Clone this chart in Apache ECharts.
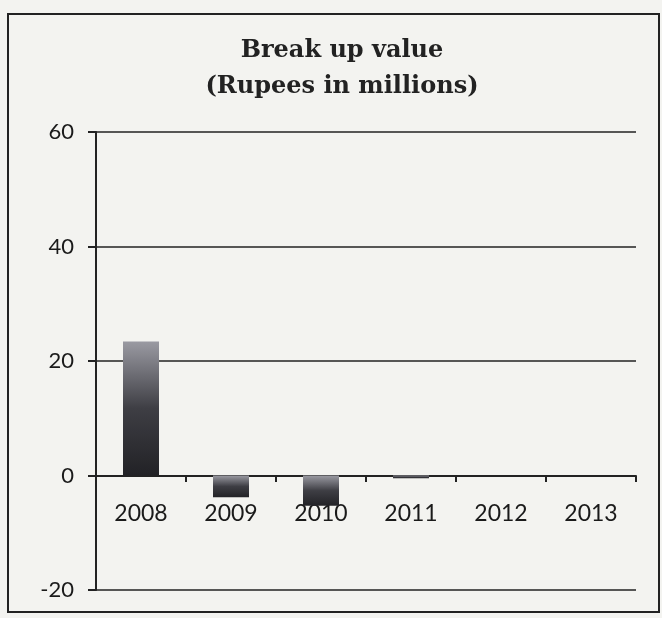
<!DOCTYPE html>
<html><head><meta charset="utf-8">
<script src="https://cdn.jsdelivr.net/npm/echarts@6/dist/echarts.min.js"></script>
<style>html,body{margin:0;padding:0;background:#f3f3f0;}#c{width:662px;height:618px;}</style>
</head><body><div id="c"></div>
<script>
var categories = ['2008','2009','2010','2011','2012','2013'];
var breakUpValues = [23.4, -3.8, -5.3, -0.5, 0, 0];
var yTicks = [-20, 0, 20, 40, 60];

var chart = echarts.init(document.getElementById('c'));
chart.setOption({
  backgroundColor: '#f3f3f0',
  animation: false,
  title: {
    text: 'Break up value\n(Rupees in millions)',
    left: 337, top: 28, textAlign: 'center',
    textStyle: {fontFamily: 'DejaVu Serif', fontWeight: 'bold', fontSize: 24, lineHeight: 36, color: '#222'}
  },
  graphic: [{type: 'rect', shape: {x: 8, y: 14, width: 651, height: 598}, style: {fill: 'none', stroke: '#222', lineWidth: 2}, silent: true}],
  grid: {left: 96, right: 26, top: 132, bottom: 28, containLabel: false, outerBoundsMode: 'none'},
  xAxis: {
    type: 'category', data: categories, position: 'bottom', offset: -114,
    axisLine: {onZero: false, lineStyle: {color: '#222', width: 2}},
    axisTick: {show: true, length: 6, lineStyle: {color: '#222', width: 2}},
    axisLabel: {margin: 26, fontFamily: 'Lato', fontSize: 23, color: '#1a1a1a'}
  },
  yAxis: {
    type: 'value', min: yTicks[0], max: yTicks[yTicks.length-1], interval: 20,
    axisLine: {show: true, lineStyle: {color: '#222', width: 2}},
    axisTick: {show: true, length: 8, lineStyle: {color: '#222', width: 2}},
    axisLabel: {margin: 22, fontFamily: 'Lato', fontSize: 22, color: '#1a1a1a'},
    splitLine: {show: true, lineStyle: {color: '#222', width: 1.5}}
  },
  series: [{
    type: 'bar', data: breakUpValues, barWidth: 36,
    itemStyle: {color: new echarts.graphic.LinearGradient(0,0,0,1,[{offset:0,color:'#9a9aa2'},{offset:0.5,color:'#3e3e44'},{offset:1,color:'#222226'}])}
  }]
});
</script></body></html>
